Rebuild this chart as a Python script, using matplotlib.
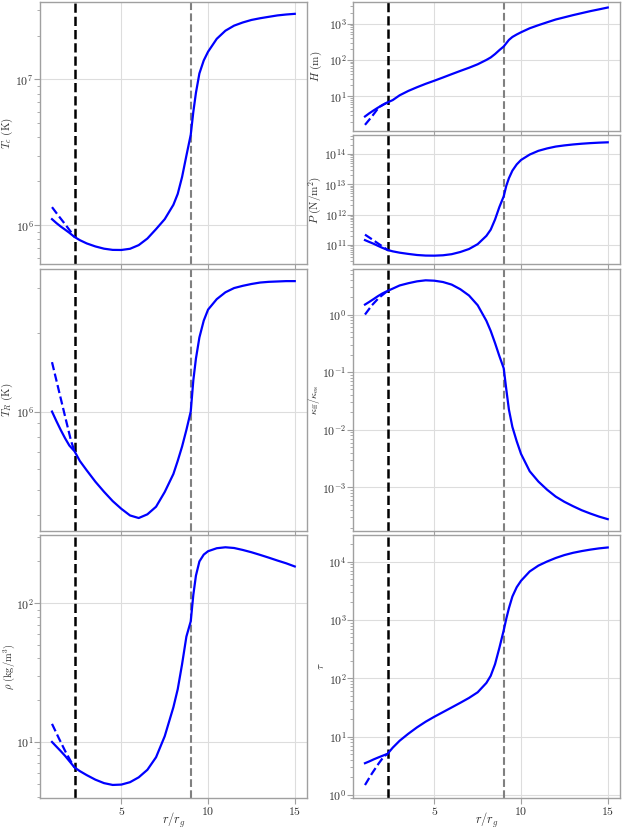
import numpy as np
import matplotlib
matplotlib.use("Agg")
import matplotlib.pyplot as plt
from matplotlib.ticker import FuncFormatter, LogLocator, NullFormatter

# radius grid (r / r_g) for the full solution
r = [1.0, 1.25, 1.5, 1.75, 2.0, 2.3, 2.6, 3.0, 3.5, 4.0, 4.5, 5.0, 5.5, 6.0, 6.5,
     7.0, 7.5, 8.0, 8.25, 8.5, 8.75, 9.0, 9.15, 9.3, 9.5, 9.75, 10.0, 10.5, 11.0,
     11.5, 12.0, 12.5, 13.0, 13.5, 14.0, 14.5, 15.0]
# inner alternative solution (dashed), joins the main one at r_in
r_inner = [1.0, 1.4, 1.8, 2.1, 2.3]

r_in = 2.3
r_tr = 9.0

Tc = [1.10e6, 1.035e6, 9.8e5, 9.33e5, 8.87e5, 8.3e5, 7.9e5, 7.5e5, 7.15e5, 6.9e5,
      6.77e5, 6.76e5, 6.89e5, 7.3e5, 8.1e5, 9.4e5, 1.1e6, 1.38e6, 1.64e6, 2.14e6,
      3.0e6, 4.17e6, 6.0e6, 8.1e6, 1.1e7, 1.35e7, 1.55e7, 1.9e7, 2.16e7, 2.34e7,
      2.46e7, 2.56e7, 2.63e7, 2.69e7, 2.75e7, 2.79e7, 2.82e7]
Tc_inner = [1.33e6, 1.15e6, 1.0e6, 8.95e5, 8.3e5]

TR = [1.0e6, 9.2e5, 8.5e5, 7.9e5, 7.4e5, 7.03e5, 6.46e5, 5.94e5, 5.37e5, 4.91e5,
      4.52e5, 4.22e5, 3.98e5, 3.89e5, 4.02e5, 4.3e5, 4.9e5, 5.75e5, 6.46e5, 7.33e5,
      8.5e5, 1.0e6, 1.32e6, 1.6e6, 1.93e6, 2.24e6, 2.47e6, 2.71e6, 2.88e6, 2.99e6,
      3.05e6, 3.1e6, 3.14e6, 3.16e6, 3.17e6, 3.18e6, 3.18e6]
TR_inner = [1.55e6, 1.2e6, 9.3e5, 7.7e5, 7.03e5]

rho = [10.0, 9.27, 8.6, 7.95, 7.28, 6.55, 6.17, 5.77, 5.35, 5.05, 4.9, 4.93, 5.13,
       5.56, 6.3, 7.76, 11.0, 17.8, 24.0, 36.3, 57.5, 74.0, 115.0, 158.0, 200.0,
       224.0, 237.0, 249.0, 253.0, 250.0, 242.0, 233.0, 223.0, 213.0, 203.0,
       194.0, 184.0]
rho_inner = [13.5, 10.6, 8.4, 7.2, 6.55]

H = [2.8, 3.43, 4.12, 4.9, 5.75, 6.82, 7.9, 10.7, 14.1, 17.8, 22.1, 26.9, 33.0,
     40.7, 50.0, 61.0, 76.0, 100.0, 117.0, 145.0, 186.0, 234.0, 288.0, 355.0,
     427.0, 500.0, 575.0, 741.0, 900.0, 1080.0, 1290.0, 1480.0, 1700.0, 1930.0,
     2190.0, 2450.0, 2750.0]
H_inner = [1.65, 2.8, 5.0, 6.1, 6.82]

P = [1.45e11, 1.26e11, 1.1e11, 9.4e10, 8.1e10, 6.9e10, 6.2e10, 5.6e10, 5.1e10,
     4.7e10, 4.5e10, 4.47e10, 4.6e10, 5.0e10, 5.9e10, 7.4e10, 1.07e11, 2.0e11,
     3.2e11, 6.9e11, 1.78e12, 4.0e12, 8.9e12, 1.58e13, 2.8e13, 4.5e13, 6.3e13,
     9.5e13, 1.26e14, 1.51e14, 1.74e14, 1.9e14, 2.04e14, 2.16e14, 2.26e14,
     2.34e14, 2.4e14]
P_inner = [2.2e11, 1.55e11, 1.08e11, 8.3e10, 6.9e10]

kappa = [1.49, 1.66, 1.86, 2.09, 2.32, 2.57, 2.82, 3.2, 3.5, 3.77, 3.93, 3.87, 3.67,
         3.31, 2.75, 2.14, 1.45, 0.78, 0.52, 0.32, 0.19, 0.117, 0.05, 0.0224,
         0.0112, 0.0063, 0.0038, 0.0019, 0.00126, 9.1e-4, 6.9e-4, 5.6e-4, 4.7e-4,
         4.0e-4, 3.5e-4, 3.1e-4, 2.8e-4]
kappa_inner = [1.0, 1.45, 1.95, 2.3, 2.57]

tau = [3.5, 3.76, 4.07, 4.37, 4.68, 5.06, 6.46, 8.5, 11.2, 14.4, 18.0, 21.9, 26.3,
       31.6, 38.0, 46.0, 57.5, 83.0, 110.0, 174.0, 331.0, 661.0, 1050.0, 1585.0,
       2510.0, 3630.0, 4680.0, 6760.0, 8510.0, 1.0e4, 1.15e4, 1.29e4, 1.41e4,
       1.51e4, 1.6e4, 1.68e4, 1.74e4]
tau_inner = [1.48, 2.33, 3.5, 4.6, 5.06]

plt.rcParams["mathtext.fontset"] = "cm"

EDGE = "#a0a0a0"
TEXT = "#333333"


def log_label(v, pos):
    return rf"$10^{{{int(round(np.log10(v)))}}}$"


def style_axis(ax, ylabel, ylim, show_x, label_x, ylabel_size=8):
    ax.set_yscale("log")
    ax.set_xlim(0.3, 15.7)
    ax.set_ylim(*ylim)
    ax.set_xticks([5, 10, 15])
    ax.xaxis.set_major_formatter(FuncFormatter(lambda v, pos: rf"${v:g}$"))
    ax.yaxis.set_major_locator(LogLocator(base=10, numticks=20))
    ax.yaxis.set_major_formatter(FuncFormatter(log_label))
    ax.yaxis.set_minor_locator(LogLocator(base=10, subs=np.arange(2, 10), numticks=20))
    ax.yaxis.set_minor_formatter(NullFormatter())
    ax.grid(True, which="major", color="#dddddd", linewidth=0.8)
    ax.set_axisbelow(True)
    for sp in ax.spines.values():
        sp.set_color(EDGE)
        sp.set_linewidth(1.0)
    ax.tick_params(axis="both", which="major", length=4, width=0.8, color=EDGE,
                   labelsize=8.5, labelcolor=TEXT)
    ax.tick_params(axis="y", which="major", pad=0.5)
    ax.tick_params(axis="x", which="major", pad=1.5)
    ax.tick_params(axis="y", which="minor", length=2.5, width=0.6, color=EDGE)
    ax.set_ylabel(ylabel, fontsize=ylabel_size, color=TEXT)
    ax.yaxis.set_label_coords(label_x, 0.5)
    if show_x:
        ax.set_xlabel(r"$r/r_g$", fontsize=9, color=TEXT)
        ax.xaxis.set_label_coords(0.5, -0.05)
    else:
        ax.tick_params(axis="x", labelbottom=False)


def draw(ax, y, y_inner):
    ax.axvline(r_in, color="black", linestyle="--", linewidth=1.8, zorder=2)
    ax.axvline(r_tr, color="gray", linestyle="--", linewidth=1.5, zorder=2)
    ax.plot(r_inner, y_inner, color="blue", linestyle="--", linewidth=1.6, zorder=3)
    ax.plot(r, y, color="blue", linestyle="-", linewidth=1.6, zorder=4)


fig = plt.figure(figsize=(6.23, 8.30), dpi=100)
gs = fig.add_gridspec(6, 2, left=0.064, right=0.995, top=0.9976, bottom=0.039,
                      wspace=0.172, hspace=0.035)

ax_tc = fig.add_subplot(gs[0:2, 0])
ax_tr = fig.add_subplot(gs[2:4, 0], sharex=ax_tc)
ax_rho = fig.add_subplot(gs[4:6, 0], sharex=ax_tc)
ax_h = fig.add_subplot(gs[0, 1], sharex=ax_tc)
ax_p = fig.add_subplot(gs[1, 1], sharex=ax_tc)
ax_k = fig.add_subplot(gs[2:4, 1], sharex=ax_tc)
ax_tau = fig.add_subplot(gs[4:6, 1], sharex=ax_tc)

draw(ax_tc, Tc, Tc_inner)
draw(ax_tr, TR, TR_inner)
draw(ax_rho, rho, rho_inner)
draw(ax_h, H, H_inner)
draw(ax_p, P, P_inner)
draw(ax_k, kappa, kappa_inner)
draw(ax_tau, tau, tau_inner)

style_axis(ax_tc, r"$T_c\ (\mathrm{K})$", (5.4e5, 3.4e7), False, -0.092)
style_axis(ax_tr, r"$T_R\ (\mathrm{K})$", (3.47e5, 3.55e6), False, -0.092)
style_axis(ax_rho, r"$\rho\ (\mathrm{kg/m^3})$", (3.97, 308), True, -0.087, 7.5)
style_axis(ax_h, r"$H\ (\mathrm{m})$", (1.13, 3.9e3), False, -0.108)
style_axis(ax_p, r"$P\ (\mathrm{N/m^2})$", (2.34e10, 4.07e14), False, -0.108)
style_axis(ax_k, r"$\kappa_{\mathrm{ff}}/\kappa_{\mathrm{es}}$", (1.75e-4, 6.25), False,
           -0.116, 7.5)
style_axis(ax_tau, r"$\tau$", (0.9, 2.8e4), True, -0.10)

fig.savefig("out.png", dpi=100)
